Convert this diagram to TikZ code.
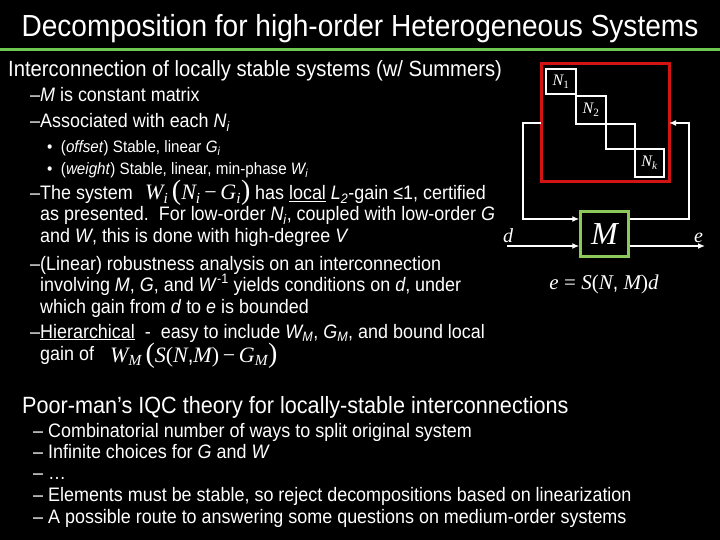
\documentclass[tikz,border=0pt]{standalone}
\usepackage{fontspec}
\setmainfont{Liberation Sans}[FakeStretch=0.92]
\newfontfamily\serifrm{Liberation Serif}
\newcommand{\serifit}{\serifrm\itshape}
\newcommand{\mv}[1]{{\serifit #1}}
\newcommand{\tsub}[1]{\textsubscript{#1}}
\newcommand{\bigp}[1]{{\serifrm\fontsize{28}{28}\selectfont #1}}
\usetikzlibrary{arrows.meta}
\tikzset{
  txt/.style={anchor=base west,inner sep=0pt,text=white},
  wbox/.style={draw=white,line width=2pt,inner sep=0pt},
  wline/.style={draw=white,line width=1.8pt},
  arr/.style={wline,-{Latex[length=7pt,width=6pt]}}
}
\begin{document}
\begin{tikzpicture}[x=1pt,y=-1pt]
\fill[black] (0,0) rectangle (720,540);
\useasboundingbox (0,0) rectangle (720,540);
% title
\node[txt,anchor=base] (title) at (360,37) {\fontsize{30.5}{33}\selectfont Decomposition for high-order Heterogeneous Systems};
\draw[draw={rgb,255:red,110;green,200;blue,80},line width=3pt] (0,50) -- (720,50);
% left text
\node[txt] (l1) at (8,77) {\fontsize{22}{24}\selectfont Interconnection of locally stable systems (w/ Summers)};
\begin{scope}[every node/.style={txt,font=\fontsize{19.5}{22}\selectfont}]
\node (a1) at (30,102) {–\textit{M} is constant matrix};
\node (a2) at (30,128) {–Associated with each \textit{N\tsub{i}}};
\node (a3) at (30,200) {–The system};
\node (f1) at (145,200) {\fontsize{22}{22}\selectfont\mv{W\tsub{i}}\,\bigp{(}\mv{N\tsub{i}}\,{\serifrm −}\,\mv{G\tsub{i}}\bigp{)}};
\node (a3b) at (255,200) {has \underline{local} \textit{L\tsub{2}}-gain ≤1, certified};
\node (a4) at (40,221) {as presented.\ \ For low-order \textit{N\tsub{i}}, coupled with low-order \textit{G}};
\node (a5) at (40,243) {and \textit{W}, this is done with high-degree \textit{V}};
\node (a6) at (30,270) {–(Linear) robustness analysis on an interconnection};
\node (a7) at (40,291) {involving \textit{M}, \textit{G}, and \textit{W}\textsuperscript{-1} yields conditions on \textit{d}, under};
\node (a8) at (40,313) {which gain from \textit{d} to \textit{e} is bounded};
\node (a9) at (30,338) {–\underline{Hierarchical}\ \ -\ \ easy to include \textit{W\tsub{M}}, \textit{G\tsub{M}}, and bound local};
\node (a10) at (40,360) {gain of};
\node (f2) at (110,362) {\fontsize{22}{22}\selectfont\mv{W\tsub{M}}\,\bigp{(}\mv{S}{\serifrm(}\mv{N},\mv{M}{\serifrm)}\,{\serifrm −}\,\mv{G\tsub{M}}\bigp{)}};
\end{scope}
\begin{scope}[every node/.style={txt,font=\fontsize{16.5}{18}\selectfont}]
\node (b1) at (47,153) {•\ \ (\textit{offset}) Stable, linear \textit{G\tsub{i}}};
\node (b2) at (47,175) {•\ \ (\textit{weight}) Stable, linear, min-phase \textit{W\tsub{i}}};
\end{scope}
\node[txt] (p) at (22,413) {\fontsize{23.5}{26}\selectfont Poor-man’s IQC theory for locally-stable interconnections};
\begin{scope}[every node/.style={txt,font=\fontsize{19.5}{22}\selectfont}]
\node (c1) at (33,437) {– Combinatorial number of ways to split original system};
\node (c2) at (33,458) {– Infinite choices for \textit{G} and \textit{W}};
\node (c3) at (33,479) {– …};
\node (c4) at (33,501) {– Elements must be stable, so reject decompositions based on linearization};
\node (c5) at (33,523) {– A possible route to answering some questions on medium-order systems};
\end{scope}
% diagram
\draw[draw={rgb,255:red,210;green,20;blue,20},line width=3pt] (541,64) rectangle (669,182);
\node[wbox,minimum width=30pt,minimum height=25pt] (N1) at (561,81.5) {\fontsize{16}{16}\selectfont\color{white}\mv{N}\tsub{\serifrm 1}};
\draw[wline] (576,94) -- (576,124) -- (606,124) -- (606,149) -- (635,149);
\draw[wline] (576,96) -- (606,96) -- (606,124) -- (635,124) -- (635,149);
\node[wbox,minimum width=30pt,minimum height=28pt] (N2) at (591,110) {\fontsize{16}{16}\selectfont\color{white}\mv{N}\tsub{\serifrm 2}};
\node[wbox,minimum width=29pt,minimum height=28pt] (Nk) at (649.5,163) {\fontsize{16}{16}\selectfont\color{white}\mv{N}\tsub{\serifit k}};
\node[draw={rgb,255:red,140;green,200;blue,90},line width=2.5pt,minimum width=48pt,minimum height=45pt,inner sep=0pt] (M) at (604.5,234) {\fontsize{32}{32}\selectfont\color{white}\mv{M}};
\coordinate (lft) at (541,123);
\coordinate (rgt) at (669,123);
\draw[arr] (lft) -- (523,123) -- (523,219) -- (M.west |- 0,219);
\draw[arr] (M.east |- 0,219) -- (689,219) -- (689,123) -- (rgt);
\coordinate (din) at (507,246);
\coordinate (eout) at (705,246);
\draw[arr] (din) -- (M.west |- din);
\draw[arr] (M.east |- eout) -- (eout);
\node[txt] (dl) at (503,242) {\fontsize{20}{20}\selectfont\mv{d}};
\node[txt] (el) at (694,242) {\fontsize{20}{20}\selectfont\mv{e}};
\node[txt,anchor=base] (eq) at (604,289) {\fontsize{21}{22}\selectfont\mv{e} {\serifrm=} \mv{S}{\serifrm(}\mv{N}, \mv{M}{\serifrm)}\mv{d}};
\end{tikzpicture}
\end{document}
